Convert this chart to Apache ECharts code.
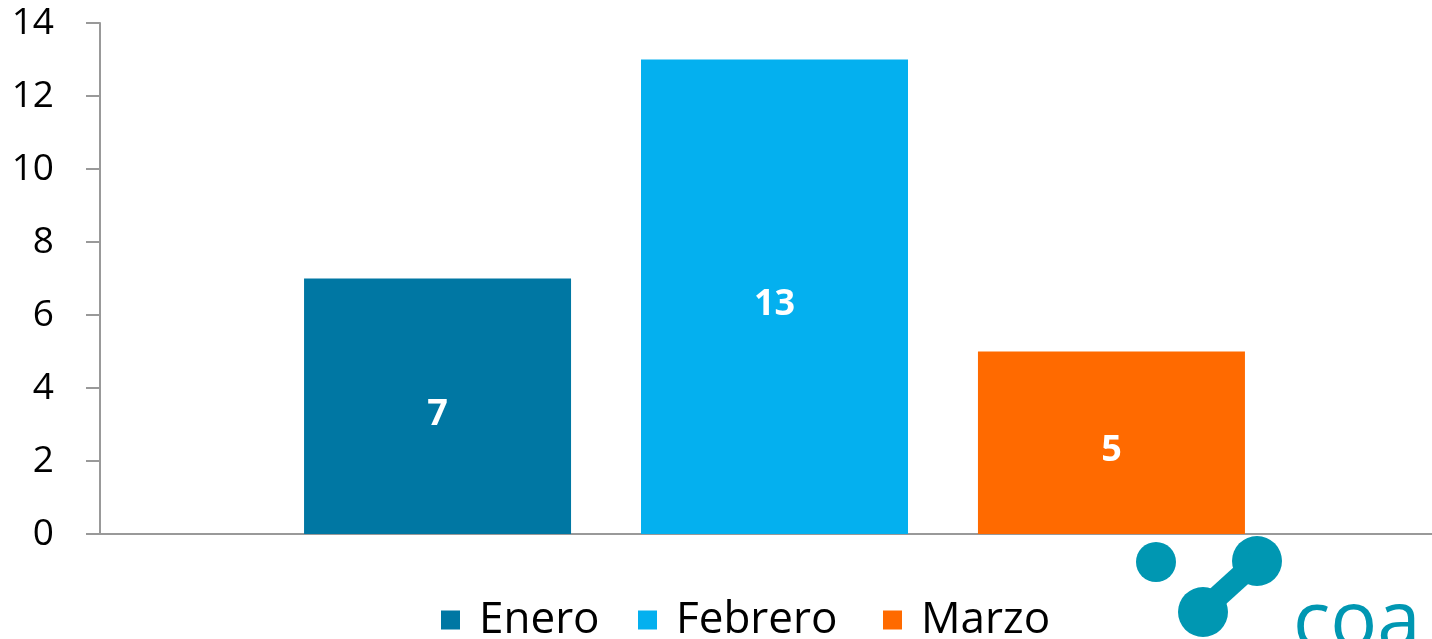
<!DOCTYPE html>
<html>
<head>
<meta charset="utf-8">
<script src="https://cdn.jsdelivr.net/npm/echarts@6/dist/echarts.min.js"></script>
<style>
html,body{margin:0;padding:0;background:#fff;overflow:hidden}
#chart{width:1449px;height:639px}
</style>
</head>
<body>
<div id="chart"></div>
<script>
// datos
const categories = ['']
const seriesNames = ['Enero', 'Febrero', 'Marzo']
const seriesValues = [[7], [13], [5]]
const seriesColors = ['#0077a3', '#04b0ef', '#ff6a00']
const yTicks = {min: 0, max: 14, interval: 2}
const legendLeft = [436, 633, 878]

const chart = echarts.init(document.getElementById('chart'))

let series = []
let legends = []
for (let i = 0; i < seriesNames.length; i++) {
    series.push({
        name: seriesNames[i],
        type: 'bar',
        data: seriesValues[i],
        barWidth: 267,
        barGap: '26.2%',
        itemStyle: {color: seriesColors[i]},
        label: {
            show: true,
            position: 'inside',
            offset: [0, 8],
            color: '#fff',
            fontSize: 36,
            fontWeight: 'bold',
            fontFamily: 'Open Sans'
        }
    })
    // una leyenda por serie, para controlar la posicion
    legends.push({
        bottom: -8,
        left: legendLeft[i],
        itemWidth: 19,
        itemHeight: 19,
        icon: 'rect',
        textStyle: {fontSize: 44, color: '#000', fontFamily: 'Open Sans', padding: [0, 0, 0, 14]},
        data: [seriesNames[i]]
    })
}

chart.setOption({
    animation: false,
    textStyle: {fontFamily: 'Open Sans'},
    grid: {left: 100, right: 0, top: 23, bottom: 105},
    legend: legends,
    xAxis: {
        type: 'category',
        data: categories,
        axisLine: {lineStyle: {color: '#999', width: 2}},
        axisTick: {show: false},
        axisLabel: {show: false}
    },
    yAxis: {
        type: 'value',
        min: yTicks.min,
        max: yTicks.max,
        interval: yTicks.interval,
        splitLine: {show: false},
        axisLine: {show: true, lineStyle: {color: '#999', width: 2}},
        axisTick: {show: true, length: 14, lineStyle: {color: '#999', width: 2}},
        axisLabel: {fontSize: 37, color: '#000', margin: 46, fontFamily: 'Open Sans'}
    },
    graphic: [
        {type: 'circle', shape: {cx: 1156, cy: 562, r: 20}, style: {fill: '#0097b2'}},
        {type: 'circle', shape: {cx: 1257, cy: 561, r: 25}, style: {fill: '#0097b2'}},
        {type: 'line', shape: {x1: 1203, y1: 610, x2: 1257, y2: 561}, style: {stroke: '#0097b2', lineWidth: 22}},
        {type: 'circle', shape: {cx: 1203, cy: 612, r: 25}, style: {fill: '#0097b2'}},
        {type: 'text', left: 1293, top: 586, style: {text: 'coa', fontSize: 78, fill: '#0097b2', fontFamily: 'Open Sans'}}
    ],
    series: series
})
</script>
</body>
</html>
